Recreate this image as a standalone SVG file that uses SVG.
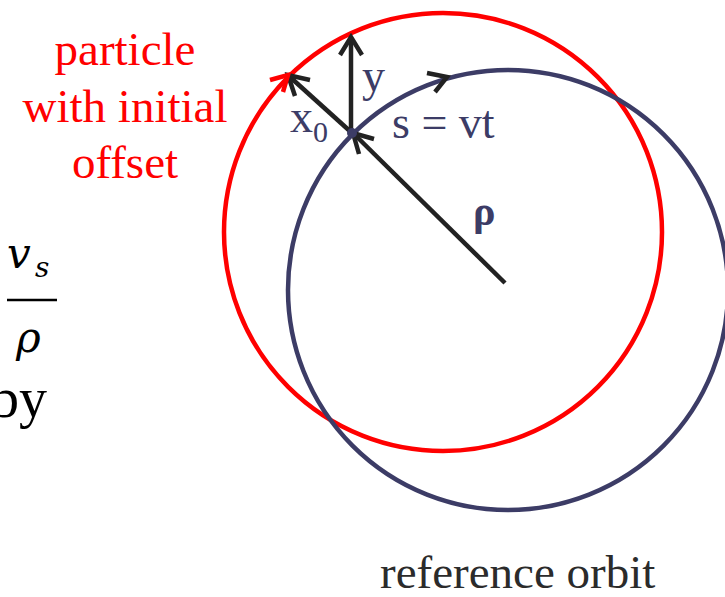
<svg xmlns="http://www.w3.org/2000/svg" width="725" height="597" viewBox="0 0 725 597">
  <defs>
    <style>
      .serif { font-family: "Liberation Serif", "Times New Roman", serif; }
      .math { font-family: "DejaVu Serif", "Liberation Serif", serif; font-style: italic; }
      .navy { fill: #3c3c66; }
      .orbit { fill: none; stroke-width: 4.5; }
      .arrow { fill: none; stroke: #222222; stroke-width: 4.5; }
      .head { fill: none; stroke-width: 4.5; stroke-linejoin: miter; stroke-linecap: butt; }
    </style>
  </defs>
  <rect width="725" height="597" fill="#ffffff"/>

  <g id="particle-orbit">
    <circle class="orbit" cx="443" cy="232" r="219" stroke="#ff0000"/>
  </g>
  <g id="reference-orbit">
    <circle class="orbit" cx="508" cy="290" r="220" stroke="#3c3c66"/>
  </g>

  <g id="connectors">
    <line class="arrow" x1="351" y1="133" x2="351" y2="39"/>
    <path class="head" d="M340,55 L351,37 L362,55" stroke="#222222"/>
    <line class="arrow" x1="352" y1="133" x2="290" y2="77"/>
    <path class="head" d="M310,80 L288,75 L295,96" stroke="#222222"/>
    <line class="arrow" x1="505" y1="283" x2="355" y2="135"/>
    <path class="head" d="M374,139 L353,133 L359,154" stroke="#222222"/>
    <path class="head" d="M270,80 L288,75 L283,92" stroke="#ff0000"/>
    <path class="head" d="M427,73 L447,77 L435,92" stroke="#222222"/>
  </g>

  <g id="particle-point">
    <circle cx="352" cy="133" r="5" fill="#3c3c66"/>
  </g>

  <g id="label-particle" class="serif" fill="#ff0000" font-size="47" text-anchor="middle">
    <text x="125" y="65">particle</text>
    <text x="125" y="122">with initial</text>
    <text x="125" y="178">offset</text>
  </g>

  <g id="label-axes" class="serif navy" font-size="46">
    <text x="362" y="91">y</text>
    <text x="290" y="132">x<tspan font-size="30" dy="10">0</tspan></text>
    <text x="392" y="138">s = vt</text>
    <text x="473" y="225" font-size="42" font-weight="bold">ρ</text>
  </g>

  <g id="formula" fill="#000000">
    <text class="math" x="7" y="268" font-size="42">v</text>
    <text class="math" x="35" y="277" font-size="28">s</text>
    <line x1="7" y1="300" x2="57" y2="300" stroke="#000000" stroke-width="2.5"/>
    <text class="math" x="16" y="352" font-size="42">ρ</text>
    <text class="serif" x="-9" y="417" font-size="56">by</text>
  </g>

  <g id="label-reference" class="serif" fill="#2b2b2b" font-size="47">
    <text x="380" y="588">reference orbit</text>
  </g>
</svg>
